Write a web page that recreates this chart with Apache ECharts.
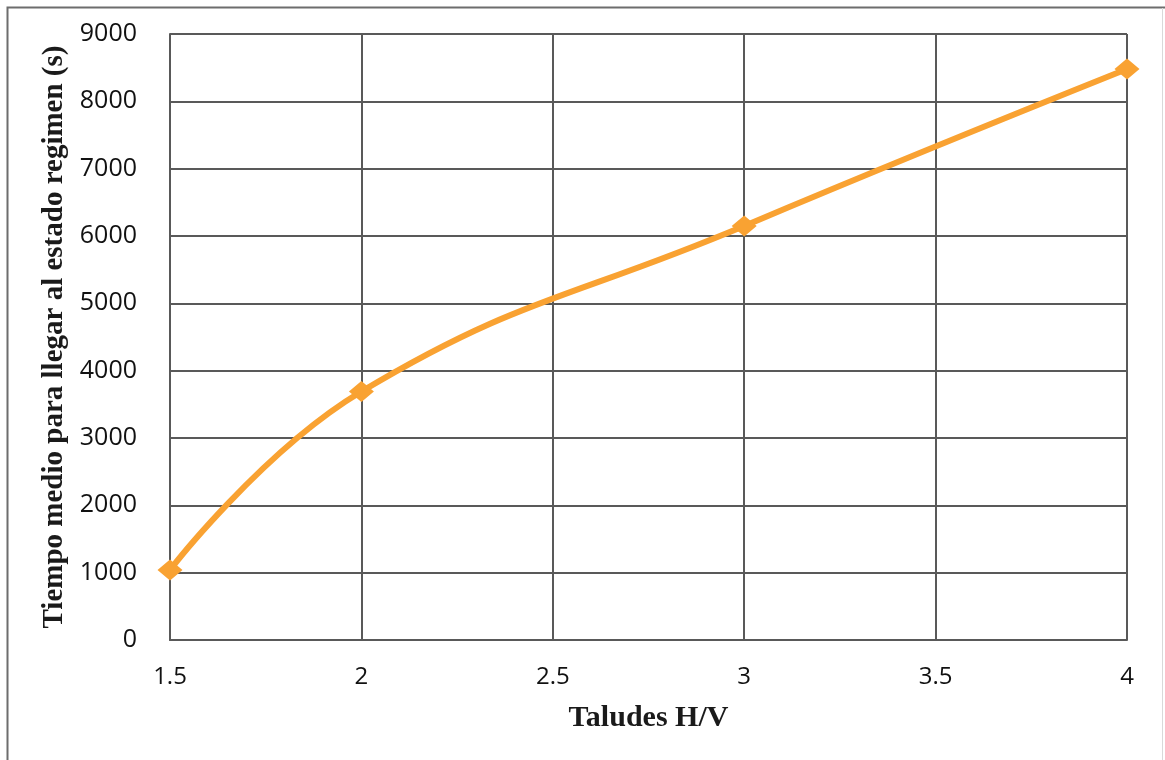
<!DOCTYPE html>
<html>
<head>
<meta charset="utf-8">
<script src="https://cdn.jsdelivr.net/npm/echarts@6/dist/echarts.min.js"></script>
<style>
html,body{margin:0;padding:0;background:#fff;}
#chart{width:1165px;height:760px;}
</style>
</head>
<body>
<div id="chart"></div>
<script>
const taludes = [1.5, 2, 3, 4];
const tiempo = [1040, 3690, 6150, 8480];
const xTicks = [1.5, 2, 2.5, 3, 3.5, 4];
const yTicks = [0, 1000, 2000, 3000, 4000, 5000, 6000, 7000, 8000, 9000];
const xTitle = 'Taludes H/V';
const yTitle = 'Tiempo medio para llegar al estado regimen (s)';

const chart = echarts.init(document.getElementById('chart'), null, {renderer: 'canvas'});
const gridColor = '#595959';
chart.setOption({
  animation: false,
  backgroundColor: '#fff',
  graphic: [
    {type: 'rect', shape: {x: 7.5, y: 7.5, width: 1200, height: 800}, style: {fill: 'none', stroke: '#6d6d6d', lineWidth: 2}, silent: true},
    {type: 'line', shape: {x1: 1162.5, y1: 8, x2: 1162.5, y2: 760}, style: {stroke: '#d9d9d9', lineWidth: 1}, silent: true}
  ],
  grid: {left: 170, right: 38, top: 34, bottom: 120, containLabel: false},
  xAxis: {
    type: 'value',
    min: xTicks[0], max: xTicks[xTicks.length - 1], interval: 0.5,
    name: xTitle, nameLocation: 'middle', nameGap: 63,
    nameTextStyle: {fontFamily: 'Liberation Serif', fontWeight: 'bold', fontSize: 30, color: '#1a1a1a'},
    axisLine: {show: true, lineStyle: {color: gridColor, width: 2}},
    axisTick: {show: false},
    axisLabel: {margin: 25, fontFamily: 'Open Sans, Liberation Sans, sans-serif', fontSize: 24, color: '#111',
      formatter: v => String(v)},
    splitLine: {show: true, lineStyle: {color: gridColor, width: 2}}
  },
  yAxis: {
    type: 'value',
    min: yTicks[0], max: yTicks[yTicks.length - 1], interval: 1000,
    name: yTitle, nameLocation: 'middle', nameGap: 99, nameRotate: 90,
    nameTextStyle: {fontFamily: 'Liberation Serif', fontWeight: 'bold', fontSize: 29, color: '#1a1a1a'},
    axisLine: {show: true, lineStyle: {color: gridColor, width: 2}},
    axisTick: {show: false},
    axisLabel: {margin: 33, fontFamily: 'Open Sans, Liberation Sans, sans-serif', fontSize: 25, color: '#111',
      formatter: v => String(v)},
    splitLine: {show: true, lineStyle: {color: gridColor, width: 2}}
  },
  series: [{
    type: 'line',
    data: taludes.map((x, i) => [x, tiempo[i]]),
    smooth: 0.45,
    symbol: 'diamond',
    symbolSize: [25, 21],
    itemStyle: {color: '#F9A232'},
    lineStyle: {color: '#F9A232', width: 6},
    clip: false
  }]
});
</script>
</body>
</html>
